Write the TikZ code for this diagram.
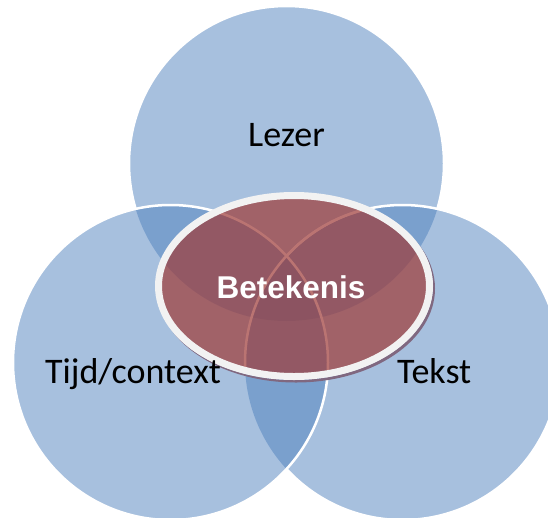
\documentclass[tikz,border=0pt]{standalone}
\usepackage{fontspec}
\newfontfamily\setfont{Carlito}
\newfontfamily\meaningfont{Liberation Sans}
\definecolor{venn}{RGB}{79,129,189}
\definecolor{meaning}{RGB}{158,58,55}
\definecolor{rim}{RGB}{242,242,242}
\definecolor{rimshadow}{RGB}{128,104,128}
\tikzset{
  set/.style={fill=venn, fill opacity=0.5},
  setline/.style={draw=white, line width=2.5pt},
  outside/.style={insert path={(-20,20) -- (570,20) -- (570,-540) -- (-20,-540) -- cycle}},
  setlabel/.style={inner sep=0pt, anchor=base, font=\setfont\fontsize{36pt}{42pt}\selectfont},
  meaninglabel/.style={inner sep=0pt, anchor=base, text=white, font=\meaningfont\bfseries\fontsize{31.5pt}{36pt}\selectfont}
}
\begin{document}
\begin{tikzpicture}[x=1pt,y=1pt]
        \clip (0,0) rectangle (548,-517);

        % Centres
        \coordinate (lezerc) at (286.5,-163.5);
        \coordinate (tijdc) at (170.5,-362.5);
        \coordinate (tekstc) at (402.5,-362.5);
        \coordinate (midc) at (294,-286);

        % Circles
        \fill[set] (lezerc) circle (157.5pt);
        \fill[set] (tekstc) circle (157.5pt);
        \fill[set] (tijdc) circle (157.5pt);

        % Outlines
        \begin{scope}
            \clip[outside] (tijdc) circle (157.5pt);
            \clip[outside] (tekstc) circle (157.5pt);
            \draw[setline] (lezerc) circle (157.5pt);
        \end{scope}
        \begin{scope}
            \clip[outside] (tijdc) circle (157.5pt);
            \draw[setline] (tekstc) circle (157.5pt);
        \end{scope}
        \draw[setline] (tijdc) circle (157.5pt);
        \begin{scope}
            \clip (midc) ellipse [x radius=139pt, y radius=94pt];
            \draw[setline] (tekstc) circle (157.5pt);
        \end{scope}

        % Shadow
        \begin{scope}
            \clip[outside] (midc) ellipse [x radius=139pt, y radius=94pt];
            \fill[rimshadow] ([shift={(2,-2.5)}]midc) ellipse [x radius=139pt, y radius=94pt];
        \end{scope}

        % Meaning
        \fill[meaning, fill opacity=0.7] (midc) ellipse [x radius=135.5pt, y radius=90.5pt];
        \draw[rim, line width=7pt] (midc) ellipse [x radius=135.5pt, y radius=90.5pt];

        % Labels
        \node[setlabel] (lezer) at (286.5,-146) {Lezer};
        \node[setlabel, anchor=base west] (tijd) at (45,-383) {Tijd/context};
        \node[setlabel, anchor=base west] (tekst) at (397,-383) {Tekst};
        \node[meaninglabel] (betekenis) at (291,-298) {Betekenis};
    \end{tikzpicture}
\end{document}
